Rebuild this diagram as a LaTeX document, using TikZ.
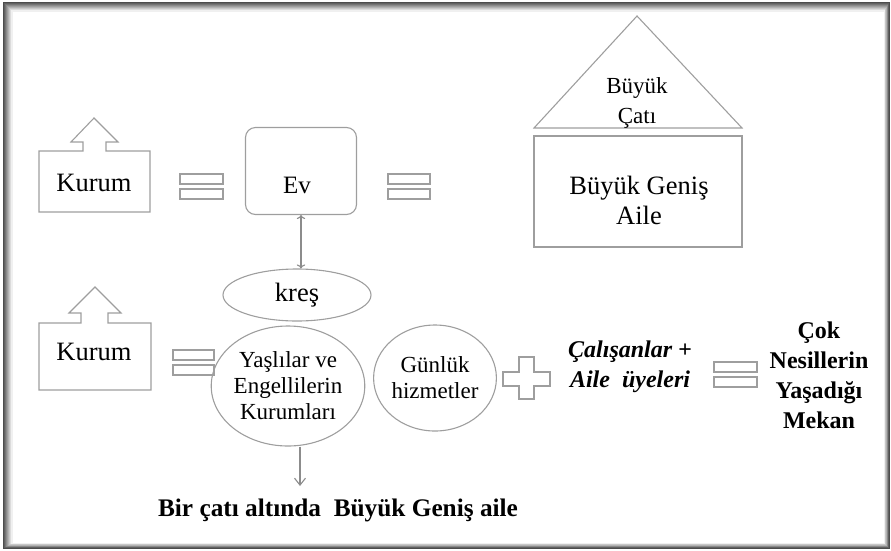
\documentclass[tikz,border=0pt]{standalone}
\usepackage{fontspec}
\setmainfont{Liberation Serif}
\usepackage{tikz}
\usetikzlibrary{arrows.meta,shapes.geometric}
\newcommand\esit[3]{\draw[sekil] (#1,#3) rectangle (#2,#3+10);
\draw[sekil] (#1,#3+15) rectangle (#2,#3+25);}
\tikzset{
  sekil/.style={draw=black!38,line width=1.1pt},
  yazi/.style={font=\fontsize{23}{26}\selectfont,align=center,inner sep=0pt},
  buyuk/.style={yazi,font=\fontsize{26.5}{30}\selectfont},
  kalin/.style={font=\fontsize{24}{30}\selectfont\bfseries,align=center,inner sep=0pt},
  ok/.style={draw=black!45,line width=1.1pt,arrows={-Straight Barb[length=7pt,width=11pt]}}
}

\begin{document}
\begin{tikzpicture}[x=1pt,y=-1pt]
\useasboundingbox (0,0) rectangle (891,550);
% frame with shadow
\foreach \i in {0,...,8}
  \draw[black!\the\numexpr 70-\i*8\relax,line width=1.2pt] (4+\i,3+\i) rectangle (889-\i*0.6,548-\i*0.6);

% first row
\draw[sekil] (39,151)--++(44,0)--++(0,-9)--++(-12,0)--++(23,-24)--++(24,24)
--++(-12,0)--++(0,9)--++(44,0)--++(0,61)--++(-111,0)--cycle;
\node[buyuk] (kurumA) at (94,183) {Kurum};
\esit{180}{223}{174}
\node[sekil,rounded corners=10pt,minimum width=111pt,minimum height=87pt] (ev) at (301,171) {};
\node[yazi,font=\fontsize{25}{30}\selectfont] (evYazi) at (297,185) {Ev};
\esit{388}{430}{174}
\draw[sekil] (534,128)--(637,16)--(742,128)--cycle;
\node[yazi,font=\fontsize{23}{30}\selectfont] (cati) at (637,103) {Büyük\\Çatı};
\draw[sekil] (534,136) rectangle (742,247);
\node[buyuk] (aile) at (639,200) {Büyük Geniş\\Aile};

% second row
\node[sekil,ellipse,minimum width=148pt,minimum height=52pt,buyuk] (kres) at (297,295) {kreş};
\draw[ok,<->] (ev.south) -- (ev.south |- kres.north);

\draw[sekil] (39,323)--++(42,0)--++(0,-10)--++(-12,0)--++(26,-26)--++(26,26)
--++(-13,0)--++(0,10)--++(43,0)--++(0,67)--++(-112,0)--cycle;
\node[buyuk] (kurumB) at (94,352) {Kurum};
\esit{173}{214}{350}
\node[sekil,ellipse,minimum width=126pt,minimum height=120pt,yazi] (yasli) at (288,386)
  {Yaşlılar ve\\Engellilerin\\Kurumları};
\node[sekil,ellipse,minimum width=116pt,minimum height=106pt,yazi] (gunluk) at (435,378)
  {Günlük\\hizmetler};
\draw[sekil] (519,357)--++(15,0)--++(0,15)--++(16,0)--++(0,14)--++(-16,0)--++(0,13)
--++(-15,0)--++(0,-13)--++(-16,0)--++(0,-14)--++(16,0)--cycle;
\node[kalin,font=\fontsize{24}{30}\selectfont\bfseries\itshape] (calisan) at (630,367)
  {Çalışanlar +\\Aile\ \ üyeleri};
\esit{714}{757}{362}
\node[kalin] (mekan) at (819,375) {Çok\\Nesillerin\\Yaşadığı\\Mekan};

\coordinate (altUc) at (300,486);
\draw[ok] (yasli.south -| altUc) -- (altUc);
\node[kalin,font=\fontsize{25.3}{30}\selectfont\bfseries] (catiAlti) at (338,510)
  {Bir çatı altında\ \ Büyük Geniş aile};
\end{tikzpicture}
\end{document}
